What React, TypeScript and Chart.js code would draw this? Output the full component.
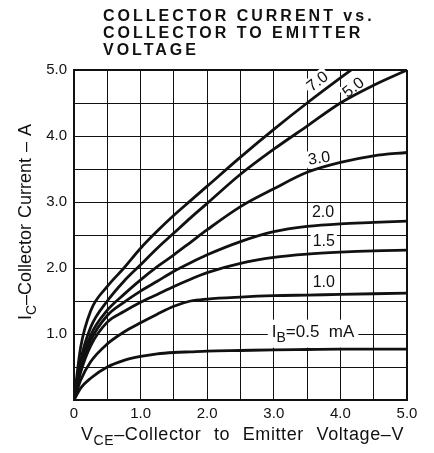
import React, { useEffect, useRef } from "react";
import { Chart, registerables } from "chart.js";

Chart.register(...registerables);

// V_CE sample points (V)
const vce = [0, 0.1, 0.25, 0.5, 0.75, 1.0, 1.25, 1.5, 1.75, 2.0, 2.5, 3.0, 3.5, 4.0, 4.5, 5.0];

// I_C (A) for each base current I_B (mA)
const ic_7_0 = [0, 0.8, 1.35, 1.72, 2.0, 2.3, 2.56, 2.8, 3.02, 3.24, 3.68, 4.1, 4.5, 4.88, 5.25, 5.6];
const ic_5_0 = [0, 0.6, 1.1, 1.5, 1.8, 2.05, 2.3, 2.53, 2.76, 2.98, 3.42, 3.8, 4.15, 4.5, 4.77, 5.0];
const ic_3_0 = [0, 0.52, 0.98, 1.36, 1.6, 1.82, 2.02, 2.2, 2.39, 2.58, 2.93, 3.2, 3.45, 3.6, 3.7, 3.75];
const ic_2_0 = [0, 0.48, 0.9, 1.28, 1.48, 1.65, 1.8, 1.95, 2.08, 2.2, 2.4, 2.55, 2.63, 2.67, 2.69, 2.71];
const ic_1_5 = [0, 0.42, 0.82, 1.18, 1.34, 1.48, 1.6, 1.72, 1.83, 1.93, 2.07, 2.16, 2.21, 2.24, 2.26, 2.27];
const ic_1_0 = [0, 0.3, 0.58, 0.85, 1.03, 1.17, 1.3, 1.42, 1.5, 1.53, 1.56, 1.58, 1.59, 1.6, 1.61, 1.62];
const ic_0_5 = [0, 0.18, 0.33, 0.5, 0.6, 0.66, 0.7, 0.72, 0.73, 0.74, 0.75, 0.76, 0.765, 0.77, 0.77, 0.77];

const seriesValues = [ic_7_0, ic_5_0, ic_3_0, ic_2_0, ic_1_5, ic_1_0, ic_0_5];

// curve labels: text, anchor (V, A), rotation (deg)
const curveLabelText = ["7.0", "5.0", "3.0", "2.0", "1.5", "1.0"];
const curveLabelX = [3.65, 4.19, 3.68, 3.74, 3.75, 3.75];
const curveLabelY = [4.83, 4.74, 3.67, 2.85, 2.41, 1.79];
const curveLabelRot = [-38, -38, -8, 0, 0, 0];

const ibLabelX = 2.97;
const ibLabelY = 1.02;

const titleLines = ["COLLECTOR CURRENT vs.", "COLLECTOR TO EMITTER", "VOLTAGE"];

const FONT = '"Liberation Sans", Arial, sans-serif';
const INK = "#111";

type Part = { t: string; sub?: boolean };

function richWidth(ctx: CanvasRenderingContext2D, parts: Part[], size: number) {
  let w = 0;
  for (const p of parts) {
    ctx.font = `${p.sub ? Math.round(size * 0.8) : size}px ${FONT}`;
    w += ctx.measureText(p.t).width;
  }
  return w;
}

function drawRich(ctx: CanvasRenderingContext2D, parts: Part[], x: number, y: number, size: number) {
  let cx = x;
  for (const p of parts) {
    const s = p.sub ? Math.round(size * 0.8) : size;
    ctx.font = `${s}px ${FONT}`;
    ctx.fillText(p.t, cx, p.sub ? y + size * 0.3 : y);
    cx += ctx.measureText(p.t).width;
  }
}

const annotPlugin = {
  id: "annot",
  beforeDraw(chart: any) {
    const ctx = chart.ctx;
    ctx.save();
    ctx.fillStyle = "#fff";
    ctx.fillRect(0, 0, chart.width, chart.height);
    ctx.restore();
  },
  beforeDatasetsDraw(chart: any) {
    const ctx: CanvasRenderingContext2D = chart.ctx;
    const xs = chart.scales.x;
    const ys = chart.scales.y;
    ctx.save();
    ctx.textBaseline = "middle";
    ctx.textAlign = "center";
    curveLabelText.forEach((t, i) => {
      const px = xs.getPixelForValue(curveLabelX[i]);
      const py = ys.getPixelForValue(curveLabelY[i]);
      ctx.save();
      ctx.translate(px, py);
      ctx.rotate((curveLabelRot[i] * Math.PI) / 180);
      ctx.font = `16px ${FONT}`;
      const w = ctx.measureText(t).width;
      ctx.fillStyle = "#fff";
      ctx.fillRect(-w / 2 - 2, -8, w + 4, 17);
      ctx.fillStyle = INK;
      ctx.fillText(t, 0, 1);
      ctx.restore();
    });
    // I_B label
    const parts: Part[] = [{ t: "I" }, { t: "B", sub: true }, { t: "=0.5" }, { t: "  mA" }];
    const lx = xs.getPixelForValue(ibLabelX);
    const ly = ys.getPixelForValue(ibLabelY);
    const w = richWidth(ctx, parts, 17);
    ctx.fillStyle = "#fff";
    ctx.fillRect(lx - 4, ly - 13, w + 8, 28);
    ctx.fillStyle = INK;
    ctx.textAlign = "left";
    ctx.textBaseline = "middle";
    drawRich(ctx, parts, lx, ly, 17);
    ctx.restore();
  },
  afterDraw(chart: any) {
    const ctx: CanvasRenderingContext2D = chart.ctx;
    const area = chart.chartArea;
    ctx.save();
    ctx.fillStyle = INK;
    // title
    ctx.textAlign = "left";
    ctx.textBaseline = "alphabetic";
    ctx.font = `bold 16px ${FONT}`;
    (ctx as any).letterSpacing = "3px";
    titleLines.forEach((line, i) => {
      ctx.fillText(line, 103, 21 + i * 17);
    });
    const size = 18;
    // x axis title
    (ctx as any).letterSpacing = "0.6px";
    (ctx as any).wordSpacing = "7px";
    const xParts: Part[] = [
      { t: "V" },
      { t: "CE", sub: true },
      { t: "–Collector to Emitter Voltage–V" },
    ];
    const xw = richWidth(ctx, xParts, size);
    ctx.textBaseline = "alphabetic";
    drawRich(ctx, xParts, (area.left + area.right) / 2 + 2 - xw / 2, 440, size);
    (ctx as any).letterSpacing = "0px";
    (ctx as any).wordSpacing = "1px";
    // y axis title
    const yParts: Part[] = [{ t: "I" }, { t: "C", sub: true }, { t: "–Collector Current – A" }];
    const yw = richWidth(ctx, yParts, size);
    ctx.translate(31, (area.top + area.bottom) / 2 - 13);
    ctx.rotate(-Math.PI / 2);
    drawRich(ctx, yParts, -yw / 2, 0, size);
    ctx.restore();
  },
};

const labelFor = (v: number, showZero: boolean) => {
  if (Math.abs(v) < 1e-9) return showZero ? "0" : "";
  if (Math.abs(v - Math.round(v)) < 1e-9) return v.toFixed(1);
  return "";
};

export default function App() {
  const ref = useRef<HTMLCanvasElement | null>(null);
  useEffect(() => {
    if (!ref.current) return;
    const datasets = seriesValues.map((arr) => ({
      data: vce.map((x, i) => ({ x, y: arr[i] })),
      borderColor: INK,
      borderWidth: 2.8,
      pointRadius: 0,
      fill: false,
      cubicInterpolationMode: "monotone" as const,
      clip: 0,
    }));
    const chart = new Chart(ref.current, {
      type: "line",
      data: { datasets },
      plugins: [annotPlugin],
      options: {
        animation: false,
        responsive: false,
        layout: { padding: { top: 70, right: 27, left: 0, bottom: 0 } },
        plugins: { legend: { display: false }, tooltip: { enabled: false }, title: { display: false } },
        scales: {
          x: {
            type: "linear",
            min: 0,
            max: 5,
            ticks: {
              stepSize: 0.5,
              autoSkip: false,
              maxRotation: 0,
              padding: 5,
              color: INK,
              font: { family: FONT, size: 15 },
              callback: (v: any) => labelFor(Number(v), true),
            },
            grid: {
              color: INK,
              lineWidth: (c: any) => (c.tick && c.tick.value === 5 ? 2 : 1),
              drawTicks: false,
            },
            border: { color: INK, width: 2 },
            afterFit: (s: any) => {
              s.height = 53;
            },
          } as any,
          y: {
            type: "linear",
            min: 0,
            max: 5,
            ticks: {
              stepSize: 0.5,
              autoSkip: false,
              padding: 7,
              color: INK,
              font: { family: FONT, size: 15 },
              callback: (v: any) => labelFor(Number(v), false),
            },
            grid: {
              color: INK,
              lineWidth: (c: any) => (c.tick && c.tick.value === 5 ? 2 : 1),
              drawTicks: false,
            },
            border: { color: INK, width: 2 },
            afterFit: (s: any) => {
              s.width = 74;
            },
          } as any,
        },
      },
    });
    return () => chart.destroy();
  }, []);
  return (
    <div style={{ position: "fixed", left: 0, top: 0, width: 434, height: 453, background: "#fff" }}>
      <canvas ref={ref} width={434} height={453} style={{ width: 434, height: 453, display: "block" }} />
    </div>
  );
}
